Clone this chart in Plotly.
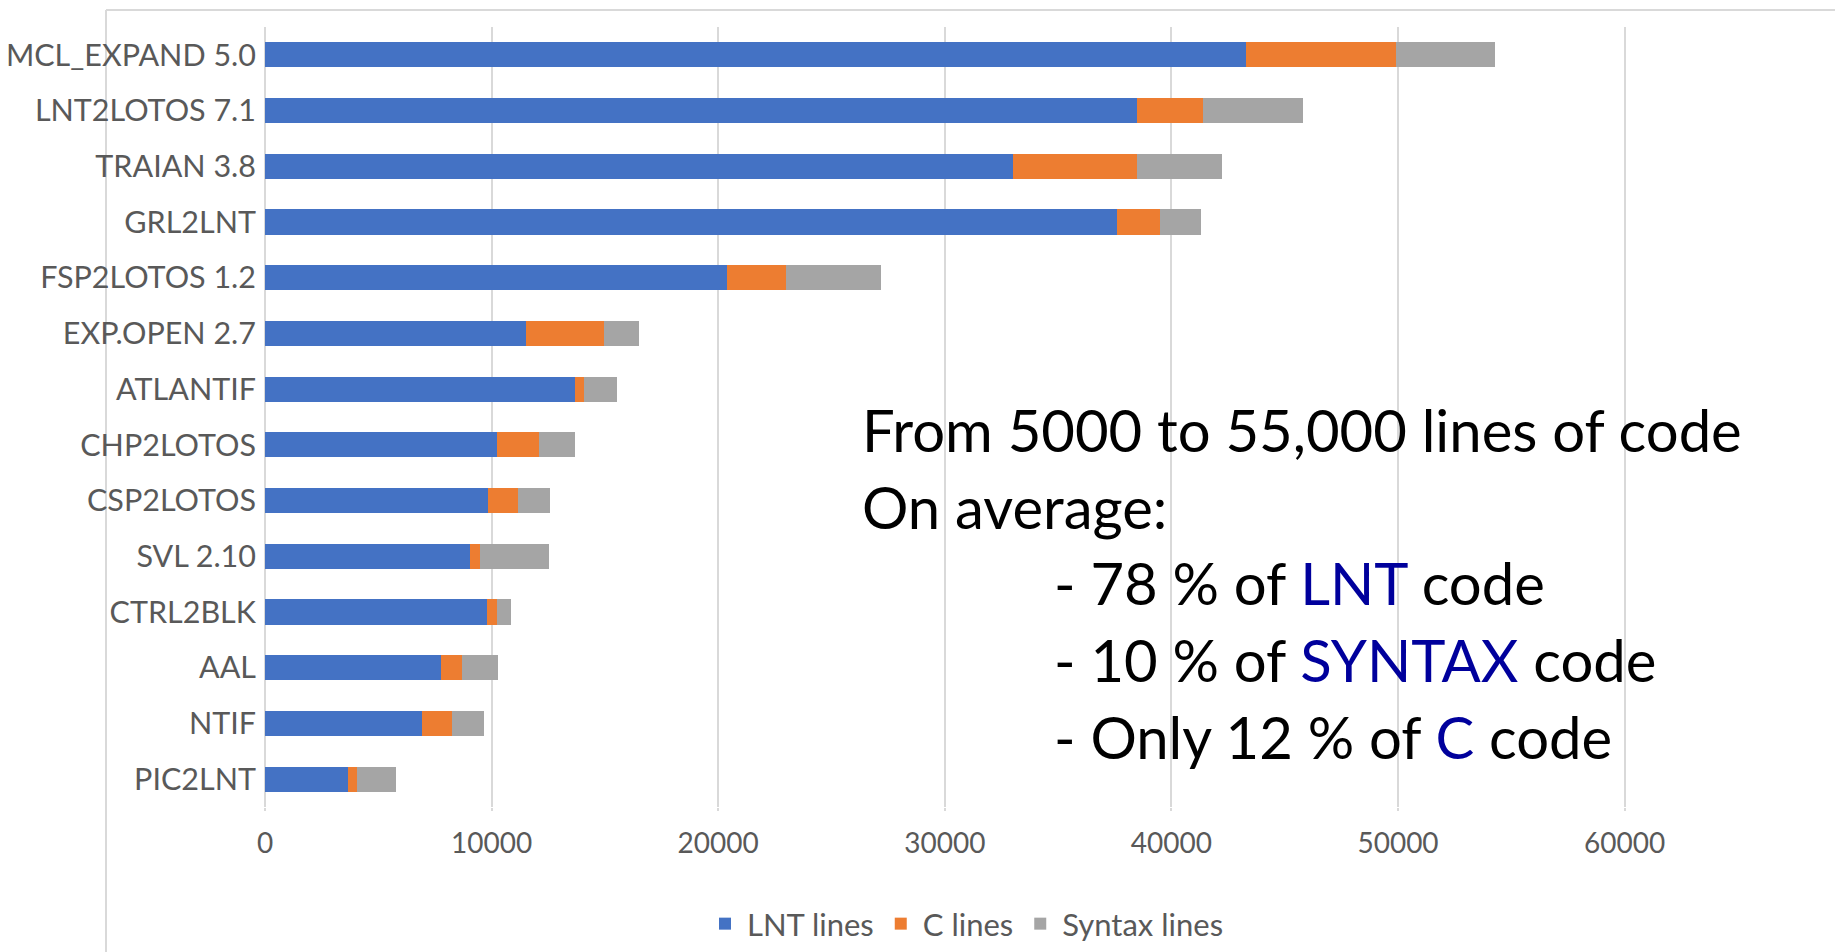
import plotly.graph_objects as go

# ---- data (top to bottom as shown) ----
tools = ["MCL_EXPAND 5.0", "LNT2LOTOS 7.1", "TRAIAN 3.8", "GRL2LNT", "FSP2LOTOS 1.2",
         "EXP.OPEN 2.7", "ATLANTIF", "CHP2LOTOS", "CSP2LOTOS", "SVL 2.10",
         "CTRL2BLK", "AAL", "NTIF", "PIC2LNT"]
lnt_lines = [43300, 38500, 33000, 37600, 20400, 11500, 13700, 10250, 9850, 9050, 9800, 7750, 6950, 3650]
c_lines = [6600, 2900, 5500, 1900, 2600, 3450, 380, 1850, 1330, 450, 450, 950, 1300, 420]
syntax_lines = [4400, 4400, 3750, 1800, 4200, 1550, 1450, 1600, 1380, 3050, 600, 1600, 1400, 1720]
x_ticks = [0, 10000, 20000, 30000, 40000, 50000, 60000]

text_lines = [
    "From 5000 to 55,000 lines of code",
    "On average:",
    "- 78 % of <span style='color:#00009C'>LNT</span> code",
    "- 10 % of <span style='color:#00009C'>SYNTAX</span> code",
    "- Only 12 % of <span style='color:#00009C'>C</span> code",
]
text_indent = [0, 0, 1, 1, 1]

FONT = "Lato, 'Open Sans', sans-serif"
W, H = 1835, 952
ML, MR, MT, MB = 265, 0, 27, 145
PW = W - ML - MR
PH = H - MT - MB

fig = go.Figure()
for name, vals, col in [("LNT lines", lnt_lines, "#4472C4"),
                        ("C lines", c_lines, "#ED7D31"),
                        ("Syntax lines", syntax_lines, "#A5A5A5")]:
    fig.add_trace(go.Bar(y=tools, x=vals, name=name, orientation="h",
                         marker=dict(color=col, line=dict(width=0))))

def px_to_paper_x(px):
    return (px - ML) / PW

def px_to_paper_y(py):
    return (H - MB - py) / PH

annotations = []
line_y = [430, 506, 582, 659, 736]
for t, ind, yy in zip(text_lines, text_indent, line_y):
    annotations.append(dict(
        text=t, xref="paper", yref="paper",
        x=px_to_paper_x(860 if ind == 0 else 1052), y=px_to_paper_y(yy),
        xanchor="left", yanchor="middle", showarrow=False,
        font=dict(family=FONT, size=58, color="#000000")))

shapes = [
    dict(type="line", xref="paper", yref="paper", layer="below",
         x0=px_to_paper_x(106), x1=px_to_paper_x(106),
         y0=px_to_paper_y(10), y1=px_to_paper_y(960),
         line=dict(color="#D9D9D9", width=2)),
    dict(type="line", xref="paper", yref="paper", layer="below",
         x0=px_to_paper_x(106), x1=px_to_paper_x(1840),
         y0=px_to_paper_y(10), y1=px_to_paper_y(10),
         line=dict(color="#D9D9D9", width=2)),
]

fig.update_layout(
    width=W, height=H,
    margin=dict(l=ML, r=MR, t=MT, b=MB, pad=0),
    barmode="stack", bargap=0.55,
    plot_bgcolor="white", paper_bgcolor="white",
    font=dict(family=FONT, color="#595959"),
    xaxis=dict(range=[0, PW / 226.6 * 10000], tickvals=x_ticks,
               ticktext=[str(v) for v in x_ticks],
               showgrid=True, gridcolor="#D9D9D9", gridwidth=2,
               zeroline=True, zerolinecolor="#D9D9D9", zerolinewidth=2,
               showline=False, ticks="outside", ticklen=3, tickcolor="#D9D9D9", tickwidth=2,
               tickfont=dict(family=FONT, size=28, color="#595959"),
               ticklabelstandoff=8, fixedrange=True),
    yaxis=dict(categoryorder="array", categoryarray=tools,
               range=[len(tools) - 0.5, -0.5], showgrid=False, zeroline=False,
               showline=False, ticks="",
               tickfont=dict(family=FONT, size=30.5, color="#595959"),
               ticklabelstandoff=8, fixedrange=True),
    legend=dict(orientation="h", x=px_to_paper_x(966), xanchor="center",
                y=px_to_paper_y(924), yanchor="middle",
                font=dict(family=FONT, size=31, color="#595959"),
                itemwidth=34, traceorder="normal",
                itemclick=False, itemdoubleclick=False),
    annotations=annotations,
    shapes=shapes,
    showlegend=True,
)

fig.write_html("out.html", include_plotlyjs=True, config={"displayModeBar": False})
